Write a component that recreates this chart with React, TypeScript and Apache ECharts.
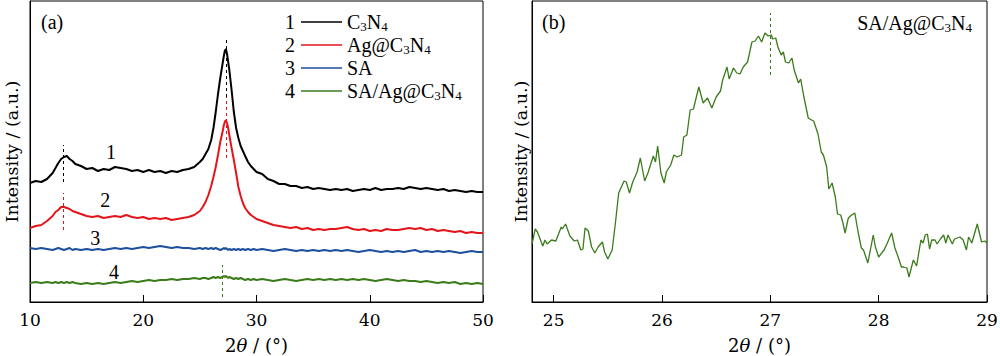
import React, { useEffect, useRef } from "react";
import * as echarts from "echarts";

const FONT = "Liberation Serif";
const AXIS_FONT = "DejaVu Serif";

// ---------- data ----------
const xTicksA = [10, 20, 30, 40, 50];
const xTicksB = [25, 26, 27, 28, 29];

// 2θ positions shared by the four full-range scans (panel a)
const angles = [
  10.0, 10.5, 11.0, 11.5, 12.0, 12.25, 12.5, 12.75, 13.0, 13.25,
  13.5, 13.75, 14.0, 14.5, 15.0, 15.5, 16.0, 16.5, 17.0, 17.5,
  18.0, 18.5, 19.0, 19.5, 20.0, 20.5, 21.0, 21.5, 22.0, 22.5,
  23.0, 23.5, 24.0, 24.5, 25.0, 25.25, 25.5, 25.75, 26.0, 26.2,
  26.4, 26.6, 26.8, 27.0, 27.1, 27.2, 27.3, 27.4, 27.5, 27.6,
  27.8, 28.0, 28.2, 28.4, 28.6, 28.8, 29.0, 29.25, 29.5, 29.75,
  30.0, 30.5, 31.0, 31.5, 32.0, 32.5, 33.0, 33.5, 34.0, 34.5,
  35.0, 35.5, 36.0, 36.5, 37.0, 37.5, 38.0, 38.5, 39.0, 39.5,
  40.0, 40.5, 41.0, 41.5, 42.0, 42.5, 43.0, 43.5, 44.0, 44.5,
  45.0, 45.5, 46.0, 46.5, 47.0, 47.5, 48.0, 48.5, 49.0, 49.5,
  50.0,
];

const c3n4 = [
  119, 121, 120, 123, 129, 134, 139, 143, 145, 146,
  143, 141, 138, 136, 133, 134, 131, 133, 132, 135,
  134, 133, 131, 132, 130, 132, 130, 131, 129, 131,
  130, 132, 133, 135, 140, 143, 148, 153, 162, 174,
  190, 208, 224, 238, 245, 251, 253, 248, 240, 232,
  212, 190, 174, 164, 156, 151, 146, 140, 136, 133,
  130, 128, 123, 121, 118, 118, 116, 116, 114, 115,
  113, 114, 113, 112, 113, 112, 113, 111, 112, 113,
  112, 114, 112, 113, 113, 114, 113, 115, 114, 113,
  114, 113, 112, 113, 111, 112, 111, 110, 111, 110,
  110,
];

const agC3n4 = [
  74, 76, 77, 81, 86, 90, 92, 95, 95, 94,
  93, 91, 90, 88, 86, 85, 86, 84, 85, 86,
  85, 87, 85, 84, 85, 83, 84, 83, 84, 82,
  83, 84, 85, 87, 91, 95, 100, 107, 116, 125,
  135, 147, 160, 170, 176, 180, 182, 179, 174, 167,
  154, 142, 129, 115, 106, 99, 94, 90, 87, 85,
  83, 81, 79, 77, 76, 75, 74, 75, 73, 74,
  72, 73, 72, 73, 73, 74, 75, 73, 72, 73,
  71, 72, 71, 73, 72, 72, 73, 74, 73, 74,
  72, 73, 71, 72, 71, 70, 71, 69, 70, 69,
  69,
];

const sa = [
  54, 53, 54, 53, 52, 53, 54, 53, 52, 53,
  54, 52, 53, 52, 53, 52, 53, 52, 53, 54,
  53, 54, 53, 54, 55, 54, 55, 56, 55, 54,
  55, 54, 54, 53, 54, 53, 54, 53, 54, 53,
  54, 53, 52, 53, 54, 53, 54, 53, 52, 53,
  52, 53, 52, 53, 52, 53, 52, 53, 52, 53,
  52, 53, 52, 51, 52, 53, 52, 51, 52, 51,
  52, 51, 52, 51, 52, 51, 52, 51, 50, 51,
  52, 51, 50, 51, 50, 51, 50, 51, 52, 50,
  51, 50, 51, 50, 51, 50, 49, 50, 51, 50,
  50,
];

const saAgC3n4 = [
  19, 20, 19, 20, 19, 20, 19, 20, 19, 20,
  19, 20, 19, 18, 19, 18, 19, 18, 19, 20,
  19, 20, 21, 20, 21, 22, 21, 22, 22, 23,
  22, 23, 23, 24, 23, 24, 24, 23, 24, 25,
  24, 25, 24, 25, 26, 25, 26, 25, 24, 25,
  24, 23, 24, 23, 24, 23, 22, 23, 22, 23,
  22, 23, 22, 21, 22, 23, 22, 21, 22, 23,
  22, 23, 22, 23, 22, 23, 22, 23, 22, 23,
  22, 21, 22, 23, 22, 21, 22, 21, 21, 20,
  21, 20, 19, 20, 19, 20, 18, 19, 18, 19,
  18,
];

// panel b: SA/Ag@C3N4 detail scan [2θ, intensity]
const zoomScan: [number, number][] = [
  [24.8, 58], [24.83, 73], [24.85, 70], [24.9, 56], [24.92, 62], [24.94, 58], [24.98, 62],
  [25.02, 61], [25.07, 75], [25.08, 73], [25.11, 78], [25.15, 66], [25.19, 61], [25.22, 62],
  [25.25, 52], [25.27, 53], [25.29, 74], [25.32, 71], [25.35, 55], [25.38, 49], [25.41, 55],
  [25.45, 60], [25.47, 50], [25.5, 43], [25.54, 52], [25.57, 79], [25.6, 109], [25.65, 121],
  [25.67, 120], [25.7, 109], [25.73, 120], [25.77, 130], [25.8, 144], [25.84, 121], [25.87, 129],
  [25.92, 146], [25.94, 140], [25.96, 156], [25.99, 129], [26.02, 119], [26.04, 130], [26.08, 137],
  [26.11, 147], [26.14, 145], [26.18, 147], [26.2, 165], [26.23, 167], [26.26, 192], [26.29, 193],
  [26.34, 215], [26.38, 199], [26.42, 204], [26.46, 194], [26.5, 205], [26.54, 211], [26.56, 222],
  [26.6, 235], [26.62, 223], [26.66, 234], [26.69, 229], [26.72, 228], [26.75, 235], [26.79, 240],
  [26.83, 260], [26.86, 261], [26.89, 266], [26.92, 260], [26.95, 269], [26.98, 266], [27.01, 267],
  [27.02, 263], [27.05, 264], [27.07, 255], [27.1, 247], [27.12, 250], [27.14, 240], [27.17, 239],
  [27.2, 244], [27.22, 232], [27.26, 219], [27.28, 223], [27.31, 205], [27.35, 184], [27.38, 182],
  [27.4, 181], [27.44, 168], [27.47, 150], [27.49, 147], [27.52, 135], [27.54, 113], [27.57, 119],
  [27.6, 105], [27.62, 88], [27.65, 87], [27.67, 79], [27.69, 69], [27.72, 84], [27.75, 87],
  [27.78, 89], [27.81, 70], [27.84, 54], [27.86, 52], [27.9, 39], [27.95, 67], [27.97, 55],
  [28.0, 45], [28.05, 52], [28.08, 59], [28.12, 69], [28.15, 54], [28.18, 45], [28.21, 35],
  [28.23, 35], [28.26, 34], [28.28, 25], [28.32, 42], [28.35, 36], [28.39, 62], [28.41, 59],
  [28.43, 67], [28.45, 68], [28.47, 53], [28.49, 62], [28.52, 62], [28.54, 58], [28.57, 63],
  [28.6, 67], [28.62, 59], [28.64, 67], [28.68, 58], [28.7, 63], [28.75, 65], [28.78, 62],
  [28.81, 52], [28.83, 65], [28.86, 59], [28.91, 78], [28.95, 60], [28.98, 61], [29.0, 59],
];

const seriesNames = ["C3N4", "Ag@C3N4", "SA", "SA/Ag@C3N4"];
const seriesLabels = ["C{s|3}N{s|4}", "Ag@C{s|3}N{s|4}", "SA", "SA/Ag@C{s|3}N{s|4}"];
const seriesTags = ["1", "2", "3", "4"];
const seriesColors = ["#000000", "#e4141b", "#1c4f9c", "#3b7b1b"];
const seriesValues = [c3n4, agC3n4, sa, saAgC3n4];
// where the curve numbers sit [2θ, intensity]
const tagAnchors: [number, number][] = [[17.15, 150], [16.65, 102], [15.77, 64], [17.42, 30]];
// dashed peak markers: [2θ, from, to] per series
const peakMarkers: [number, number, number][][] = [
  [[12.9, 120, 157], [27.3, 205, 265]],
  [[12.9, 72, 109], [27.3, 144, 205]],
  [],
  [[27.0, 5, 37]],
];
const zoomPeak: [number, number, number] = [27.0, 227, 289];
const xName = "{n|2}{i|θ}{n| / (°)}";
const yName = "Intensity / (a.u.)";

// ---------- component ----------
const rich = {
  s: { fontFamily: FONT, fontSize: 13, fill: "#000", color: "#000", verticalAlign: "bottom", lineHeight: 12 },
};
const axisRich = {
  i: { fontFamily: AXIS_FONT, fontSize: 18, fill: "#000", color: "#000", fontStyle: "italic" },
  n: { fontFamily: AXIS_FONT, fontSize: 18, fill: "#000", color: "#000" },
};

function xAxisBase(gridIndex: number, min: number, max: number, ticks: number[]) {
  return {
    type: "value",
    gridIndex,
    min,
    max,
    axisLine: { show: true, onZero: false, lineStyle: { color: "#000", width: 1 } },
    axisTick: { show: true, inside: true, length: 7, customValues: ticks, lineStyle: { color: "#000" } },
    axisLabel: { show: false },
    splitLine: { show: false },
  };
}

function yAxisBase(gridIndex: number) {
  return {
    type: "value",
    gridIndex,
    min: 0,
    max: 301,
    axisLine: { show: true, lineStyle: { color: "#000", width: 1 } },
    axisTick: { show: false },
    axisLabel: { show: false },
    splitLine: { show: false },
  };
}

export default function App() {
  const ref = useRef<HTMLDivElement>(null);

  useEffect(() => {
    if (!ref.current) return;
    const chart = echarts.init(ref.current, null, { renderer: "svg" });

    const leftSeries = seriesNames.map((name, k) => ({
      type: "line",
      name,
      xAxisIndex: 0,
      yAxisIndex: 0,
      data: angles.map((a, i) => [a, seriesValues[k][i]]),
      symbol: "none",
      lineStyle: { color: seriesColors[k], width: 2 },
      itemStyle: { color: seriesColors[k] },
      z: 3,
      markLine: {
        silent: true,
        symbol: "none",
        label: { show: false },
        lineStyle: { color: seriesColors[k], type: [3, 3], width: 1 },
        data: peakMarkers[k].map(([x, a, b]) => [{ coord: [x, a] }, { coord: [x, b] }]),
      },
      markPoint: {
        silent: true,
        symbol: "circle",
        symbolSize: 1,
        itemStyle: { color: "rgba(0,0,0,0)" },
        label: {
          show: true,
          position: "inside",
          formatter: seriesTags[k],
          fontFamily: FONT,
          fontSize: 20,
          color: "#000",
        },
        data: [{ coord: tagAnchors[k] }],
      },
    }));

    const staticGraphic: any[] = [
      ...seriesTags.map((t, k) => ({
        type: "text",
        x: 290,
        y: 22 + k * 23,
        style: { text: t, font: `20px ${FONT}`, fill: "#000", align: "center", verticalAlign: "middle" },
      })),
      {
        type: "text",
        x: 41,
        y: 22,
        style: { text: "(a)", font: `20px ${FONT}`, fill: "#000", align: "left", verticalAlign: "middle" },
      },
      {
        type: "text",
        x: 542,
        y: 22,
        style: { text: "(b)", font: `20px ${FONT}`, fill: "#000", align: "left", verticalAlign: "middle" },
      },
      {
        type: "text",
        x: 972,
        y: 23,
        style: {
          text: "SA/Ag@C{s|3}N{s|4}",
          font: `20px ${FONT}`,
          fill: "#000",
          align: "right",
          verticalAlign: "middle",
          lineHeight: 22,
          rich,
        },
      },
    ];

    const option = {
      animation: false,
      backgroundColor: "#ffffff",
      textStyle: { fontFamily: FONT },
      grid: [
        { left: 30, top: 1, width: 453, height: 301, show: true, borderColor: "#000", borderWidth: 1 },
        { left: 532, top: 1, width: 455, height: 301, show: true, borderColor: "#000", borderWidth: 1 },
      ],
      xAxis: [xAxisBase(0, 10, 50, xTicksA), xAxisBase(1, 24.8, 29, xTicksB)],
      yAxis: [yAxisBase(0), yAxisBase(1)],
      legend: {
        data: seriesNames,
        orient: "vertical",
        left: 301,
        top: 11,
        padding: 0,
        icon: "rect",
        itemWidth: 41,
        itemHeight: 1.5,
        itemGap: 1,
        formatter: (name: string) => seriesLabels[seriesNames.indexOf(name)],
        textStyle: { fontFamily: FONT, fontSize: 20, color: "#000", lineHeight: 22, rich },
        selectedMode: false,
      },
      graphic: staticGraphic,
      series: [
        ...leftSeries,
        {
          type: "line",
          name: "SA/Ag@C3N4 (detail)",
          xAxisIndex: 1,
          yAxisIndex: 1,
          data: zoomScan,
          symbol: "none",
          lineStyle: { color: seriesColors[3], width: 1.3 },
          itemStyle: { color: seriesColors[3] },
          markLine: {
            silent: true,
            symbol: "none",
            label: { show: false },
            lineStyle: { color: seriesColors[3], type: [3, 3], width: 1 },
            data: [[{ coord: [zoomPeak[0], zoomPeak[1]] }, { coord: [zoomPeak[0], zoomPeak[2]] }]],
          },
        },
      ],
    };

    chart.setOption(option as any);

    // axis tick labels and axis titles, positioned through the axes' own scales
    const axisGraphic: any[] = [];
    const panels = [
      { grid: 0, ticks: xTicksA, min: 10, max: 50, yGap: 18.5 },
      { grid: 1, ticks: xTicksB, min: 24.8, max: 29, yGap: 11.5 },
    ];
    panels.forEach((p) => {
      p.ticks.forEach((v) => {
        const pt = chart.convertToPixel({ gridIndex: p.grid } as any, [v, 0]) as number[];
        axisGraphic.push({
          type: "text",
          x: pt[0],
          y: pt[1] + 17.5,
          style: { text: String(v), font: `17px ${AXIS_FONT}`, fill: "#000", align: "center", verticalAlign: "middle" },
        });
      });
      const mid = chart.convertToPixel({ gridIndex: p.grid } as any, [(p.min + p.max) / 2, 150.5]) as number[];
      const left = chart.convertToPixel({ gridIndex: p.grid } as any, [p.min, 0]) as number[];
      axisGraphic.push({
        type: "text",
        x: mid[0],
        y: left[1] + 43,
        style: {
          text: xName,
          font: `18px ${AXIS_FONT}`,
          fill: "#000",
          align: "center",
          verticalAlign: "middle",
          rich: axisRich,
        },
      });
      axisGraphic.push({
        type: "text",
        x: left[0] - p.yGap,
        y: mid[1],
        rotation: Math.PI / 2,
        style: { text: yName, font: `17.5px ${AXIS_FONT}`, fill: "#000", align: "center", verticalAlign: "middle" },
      });
    });
    chart.setOption({ graphic: [...staticGraphic, ...axisGraphic] } as any);

    return () => chart.dispose();
  }, []);

  return (
    <div
      ref={ref}
      style={{ position: "absolute", left: 0, top: 0, width: 1000, height: 356, background: "#fff" }}
    />
  );
}
